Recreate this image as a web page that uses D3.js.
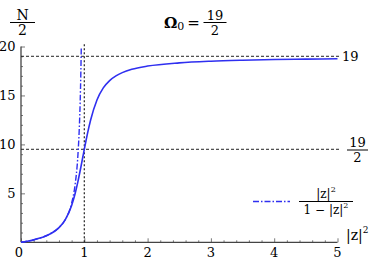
<!DOCTYPE html>
<html>
<head>
<meta charset="utf-8">
<script src="https://cdn.jsdelivr.net/npm/d3@7"></script>
<style>
body { margin: 0; background: #fff; }
svg text { font-family: "DejaVu Serif", "Liberation Serif", serif; fill: #000; }
</style>
</head>
<body>
<div id="chart"></div>
<script>
// tick labels
var xTicks = [0, 1, 2, 3, 4, 5];
var yTicks = [5, 10, 15, 20];

// reference levels (19 and 19/2) and the vertical line at |z|^2 = 1
var levels = [19, 9.5];
var vLine = 1;

// N/2 against |z|^2
var curveX = [0, 0.1, 0.2, 0.3, 0.4, 0.5, 0.6, 0.7, 0.8, 0.85, 0.9, 0.95, 0.975, 1, 1.025, 1.05, 1.1, 1.2, 1.3, 1.4, 1.5, 1.6, 1.75, 2, 2.5, 3, 3.5, 4, 4.5, 5];
var curveY = [0, 0.11, 0.25, 0.43, 0.67, 1.0, 1.5, 2.32, 3.77, 4.86, 6.23, 7.82, 8.66, 9.5, 10.32, 11.1, 12.49, 14.54, 15.77, 16.52, 17.0, 17.33, 17.67, 18.0, 18.33, 18.5, 18.6, 18.67, 18.71, 18.75];

// |z|^2 / (1 - |z|^2), the dash-dot curve
var ratioX = [0, 0.1, 0.2, 0.3, 0.4, 0.5, 0.6, 0.7, 0.8, 0.85, 0.9, 0.92, 0.94, 0.95, 0.9524];
var ratioY = [0, 0.11, 0.25, 0.43, 0.67, 1.0, 1.5, 2.33, 4.0, 5.67, 9.0, 11.5, 15.67, 19.0, 20.0];

var W = 373, H = 262;
var blue = "#2f2ff0";

var svg = d3.select("#chart").append("svg")
    .attr("width", W)
    .attr("height", H)
    .style("font-family", "'DejaVu Serif', serif");

var x = d3.scaleLinear().domain([0, 5]).range([21, 337.5]);
var y = d3.scaleLinear().domain([0, 20]).range([242.3, 46.5]);

// minor ticks
var xMinor = d3.range(0, 5.01, 0.2).filter(function (d) { return Math.abs(d - Math.round(d)) > 1e-6; });
var yMinor = d3.range(0, 20.5, 1).filter(function (d) { return d % 5 !== 0; });

var xAxis = svg.append("g").attr("transform", "translate(0," + y(0) + ")");
xAxis.call(d3.axisBottom(x).tickValues(xMinor).tickSize(-2).tickFormat(""));
xAxis.append("g").call(d3.axisBottom(x).tickValues(xTicks).tickSize(-4).tickFormat(""));
xAxis.selectAll(".domain").remove();
xAxis.selectAll("line").attr("stroke", "#555").attr("stroke-width", 0.8);

var yAxis = svg.append("g").attr("transform", "translate(" + x(0) + ",0)");
yAxis.call(d3.axisLeft(y).tickValues(yMinor).tickSize(-2).tickFormat(""));
yAxis.append("g").call(d3.axisLeft(y).tickValues(yTicks).tickSize(-4).tickFormat(""));
yAxis.selectAll(".domain").remove();
yAxis.selectAll("line").attr("stroke", "#555").attr("stroke-width", 0.8);

// axis lines
svg.append("line")
    .attr("x1", x(0)).attr("x2", x(5))
    .attr("y1", y(0)).attr("y2", y(0))
    .attr("stroke", "#444").attr("stroke-width", 1.3);
svg.append("line")
    .attr("x1", x(0)).attr("x2", x(0))
    .attr("y1", y(0)).attr("y2", y(20))
    .attr("stroke", "#444").attr("stroke-width", 1.3);

// tick labels
svg.selectAll(".xl").data(xTicks).enter().append("text")
    .attr("x", function (d) { return d === 0 ? x(d) - 2 : x(d); })
    .attr("y", 256.5)
    .attr("text-anchor", "middle")
    .style("font-size", "13px")
    .text(function (d) { return d; });

svg.selectAll(".yl").data(yTicks).enter().append("text")
    .attr("x", 15.5)
    .attr("y", function (d) { return y(d); })
    .attr("dy", "0.36em")
    .attr("text-anchor", "end")
    .style("font-size", "13px")
    .text(function (d) { return d; });

// dashed reference lines
svg.selectAll(".lv").data(levels).enter().append("line")
    .attr("x1", x(0)).attr("x2", x(5) + 2)
    .attr("y1", function (d) { return y(d); })
    .attr("y2", function (d) { return y(d); })
    .attr("stroke", "#222").attr("stroke-width", 1)
    .attr("stroke-dasharray", "3,2");

svg.append("line")
    .attr("x1", x(vLine)).attr("x2", x(vLine))
    .attr("y1", y(0)).attr("y2", y(20) - 3)
    .attr("stroke", "#222").attr("stroke-width", 1.2)
    .attr("stroke-dasharray", "2,2");

// curves
var line = d3.line()
    .x(function (d) { return x(d[0]); })
    .y(function (d) { return y(d[1]); })
    .curve(d3.curveMonotoneX);

svg.append("path")
    .datum(ratioX.map(function (v, i) { return [v, ratioY[i]]; }))
    .attr("d", line)
    .attr("fill", "none")
    .attr("stroke", blue)
    .attr("stroke-width", 1.4)
    .attr("stroke-dasharray", "6,2,1.5,2");

svg.append("path")
    .datum(curveX.map(function (v, i) { return [v, curveY[i]]; }))
    .attr("d", line)
    .attr("fill", "none")
    .attr("stroke", blue)
    .attr("stroke-width", 1.6);

// helper for a stacked fraction
function fraction(cx, barY, barW, top, bottom, size) {
    svg.append("text").attr("x", cx).attr("y", barY - 3)
        .attr("text-anchor", "middle").style("font-size", size + "px").text(top);
    svg.append("line")
        .attr("x1", cx - barW / 2).attr("x2", cx + barW / 2)
        .attr("y1", barY).attr("y2", barY)
        .attr("stroke", "#000").attr("stroke-width", 1);
    svg.append("text").attr("x", cx).attr("y", barY + 12)
        .attr("text-anchor", "middle").style("font-size", size + "px").text(bottom);
}

// y axis label N/2
fraction(22.5, 22.5, 25, "N", "2", 14);

// level labels
svg.append("text").attr("x", 342).attr("y", y(19)).attr("dy", "0.36em")
    .style("font-size", "13px").text("19");
fraction(357.5, 150, 21, "19", "2", 13);

// title  Ω0 = 19/2
var t = svg.append("text").attr("x", 164).attr("y", 28).style("font-size", "15px");
t.append("tspan").style("font-weight", "bold").text("Ω");
t.append("tspan").attr("dy", 2).style("font-size", "11px").text("0");
t.append("tspan").attr("dy", -2).attr("dx", 3).text("=");
fraction(215, 22.5, 23, "19", "2", 13);

// x axis label |z|^2
var xl = svg.append("text").attr("x", 346).attr("y", 240).style("font-size", "14px");
xl.append("tspan").text("|z|");
xl.append("tspan").attr("dy", -7).style("font-size", "9px").text("2");

// legend
svg.append("line")
    .attr("x1", 253).attr("x2", 290)
    .attr("y1", 201.5).attr("y2", 201.5)
    .attr("stroke", blue).attr("stroke-width", 1.4)
    .attr("stroke-dasharray", "6,2,1.5,2");

var num = svg.append("text").attr("x", 326).attr("y", 197.5)
    .attr("text-anchor", "middle").style("font-size", "12px");
num.append("tspan").text("|z|");
num.append("tspan").attr("dy", -6).style("font-size", "8px").text("2");
svg.append("line")
    .attr("x1", 299).attr("x2", 353)
    .attr("y1", 201.5).attr("y2", 201.5)
    .attr("stroke", "#000").attr("stroke-width", 1);
var den = svg.append("text").attr("x", 326).attr("y", 213.5)
    .attr("text-anchor", "middle").style("font-size", "12px");
den.append("tspan").text("1 − |z|");
den.append("tspan").attr("dy", -6).style("font-size", "8px").text("2");
</script>
</body>
</html>
